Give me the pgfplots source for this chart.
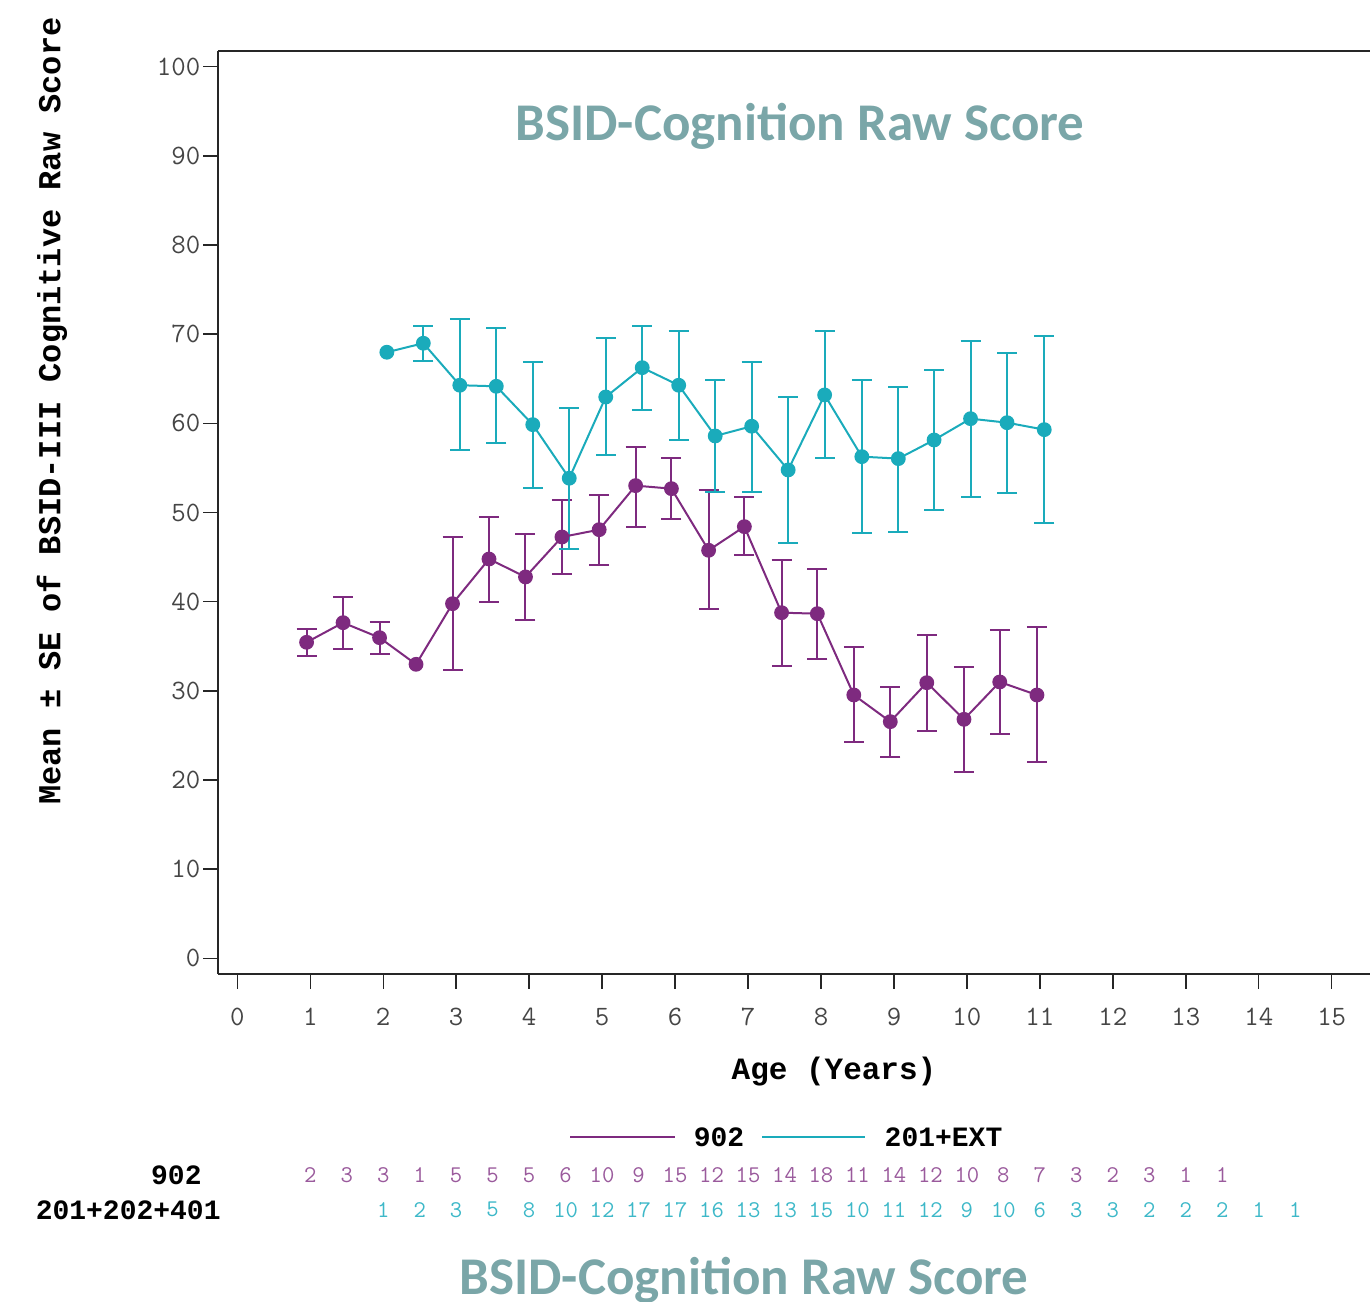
\documentclass[border=0pt]{standalone}
\usepackage{pgfplots}
\pgfplotsset{compat=1.18}
\usepackage{fontspec}
\setmainfont{Liberation Mono}
\newfontfamily\mono{Liberation Mono}
\newfontfamily\calib{Carlito}
\definecolor{cpurple}{HTML}{7E2A7F}
\definecolor{ccyan}{HTML}{1AABBB}
\definecolor{npurple}{HTML}{9A5A9C}
\definecolor{ncyan}{HTML}{3DB8C8}
\definecolor{ctitle}{HTML}{7AA6A8}
\definecolor{tickc}{HTML}{454545}

\pgfplotstableread{
x y ep em
0.95 35.44 1.46 1.54
1.45 37.64 2.86 2.94
1.95 35.96 1.72 1.79
2.45 32.97 0 0
2.95 39.77 7.48 7.47
3.45 44.78 4.72 4.85
3.95 42.77 4.85 4.86
4.45 47.25 4.12 4.11
4.96 48.07 3.89 3.99
5.46 53.01 4.37 4.64
5.95 52.67 3.41 3.36
6.46 45.76 6.73 6.55
6.95 48.41 3.33 3.21
7.46 38.76 5.91 5.94
7.95 38.65 5.05 5.08
8.45 29.53 5.35 5.30
8.95 26.54 3.85 4.00
9.45 30.91 5.31 5.38
9.96 26.80 5.84 5.94
10.45 30.99 5.80 5.83
10.96 29.53 7.63 7.55
}\purpletab

\pgfplotstableread{
x y ep em
0.95 35.44 1.46 1.54
1.45 37.64 2.86 2.94
1.95 35.96 1.72 1.79
2.95 39.77 7.48 7.47
3.45 44.78 4.72 4.85
3.95 42.77 4.85 4.86
4.45 47.25 4.12 4.11
4.96 48.07 3.89 3.99
5.46 53.01 4.37 4.64
5.95 52.67 3.41 3.36
6.46 45.76 6.73 6.55
6.95 48.41 3.33 3.21
7.46 38.76 5.91 5.94
7.95 38.65 5.05 5.08
8.45 29.53 5.35 5.30
8.95 26.54 3.85 4.00
9.45 30.91 5.31 5.38
9.96 26.80 5.84 5.94
10.45 30.99 5.80 5.83
10.96 29.53 7.63 7.55
}\purpleerr

\pgfplotstableread{
x y ep em
2.05 67.97 0 0
2.55 68.98 1.90 2.02
3.05 64.27 7.40 7.27
3.55 64.15 6.54 6.39
4.05 59.85 7.07 7.14
4.55 53.84 7.85 7.90
5.05 62.95 6.62 6.50
5.55 66.24 4.64 4.74
6.05 64.27 6.05 6.14
6.55 58.58 6.28 6.25
7.05 59.67 7.25 7.37
7.55 54.77 8.22 8.22
8.05 63.18 7.14 7.07
8.56 56.26 8.60 8.59
9.06 56.04 8.07 8.19
9.55 58.13 7.85 7.85
10.05 60.52 8.68 8.75
10.55 60.07 7.79 7.92
11.06 59.29 10.47 10.50
}\cyantab

\pgfplotstableread{
x y ep em
2.55 68.98 1.90 2.02
3.05 64.27 7.40 7.27
3.55 64.15 6.54 6.39
4.05 59.85 7.07 7.14
4.55 53.84 7.85 7.90
5.05 62.95 6.62 6.50
5.55 66.24 4.64 4.74
6.05 64.27 6.05 6.14
6.55 58.58 6.28 6.25
7.05 59.67 7.25 7.37
7.55 54.77 8.22 8.22
8.05 63.18 7.14 7.07
8.56 56.26 8.60 8.59
9.06 56.04 8.07 8.19
9.55 58.13 7.85 7.85
10.05 60.52 8.68 8.75
10.55 60.07 7.79 7.92
11.06 59.29 10.47 10.50
}\cyanerr

\pgfplotstableread{
x y n
1.0 -24.3 2
1.5 -24.3 3
2.0 -24.3 3
2.5 -24.3 1
3.0 -24.3 5
3.5 -24.3 5
4.0 -24.3 5
4.5 -24.3 6
5.0 -24.3 10
5.5 -24.3 9
6.0 -24.3 15
6.5 -24.3 12
7.0 -24.3 15
7.5 -24.3 14
8.0 -24.3 18
8.5 -24.3 11
9.0 -24.3 14
9.5 -24.3 12
10.0 -24.3 10
10.5 -24.3 8
11.0 -24.3 7
11.5 -24.3 3
12.0 -24.3 2
12.5 -24.3 3
13.0 -24.3 1
13.5 -24.3 1
}\npurple

\pgfplotstableread{
x y n
2.0 -28.2 1
2.5 -28.2 2
3.0 -28.2 3
3.5 -28.2 5
4.0 -28.2 8
4.5 -28.2 10
5.0 -28.2 12
5.5 -28.2 17
6.0 -28.2 17
6.5 -28.2 16
7.0 -28.2 13
7.5 -28.2 13
8.0 -28.2 15
8.5 -28.2 10
9.0 -28.2 11
9.5 -28.2 12
10.0 -28.2 9
10.5 -28.2 10
11.0 -28.2 6
11.5 -28.2 3
12.0 -28.2 3
12.5 -28.2 2
13.0 -28.2 2
13.5 -28.2 2
14.0 -28.2 1
14.5 -28.2 1
}\ncyan

\begin{document}
\begin{tikzpicture}
\useasboundingbox (0pt,0pt) rectangle (685pt,650.5pt);
\begin{axis}[
  at={(109.15pt,163.5pt)}, anchor=south west,
  scale only axis,
  width=576.85pt, height=461.65pt,
  xmin=-0.26, xmax=15.552,
  ymin=-1.761, ymax=101.79,
  separate axis lines,
  axis x line*=box, axis y line*=left,
  xtick pos=bottom, ytick pos=left,
  axis line style={line width=1pt, black!85},
  xtick={0,1,...,15}, ytick={0,10,...,100},
  tick align=outside,
  major tick length=7.5pt,
  every tick/.style={black!85, line width=0.7pt},
  tick label style={font=\fontsize{14}{16}\ttfamily, color=tickc},
  /pgf/number format/assume math mode=true,
  xticklabel style={yshift=-6pt},
  yticklabel style={xshift=2pt},
  clip=false,
]
\addplot[cpurple, only marks, mark=none, forget plot,
  error bars/.cd, y dir=both, y explicit,
  error bar style={line width=1pt, cpurple},
  error mark options={rotate=90, mark size=5pt, line width=1pt, cpurple}]
  table[x=x, y=y, y error plus=ep, y error minus=em] {\purpleerr};
\addplot[ccyan, only marks, mark=none, forget plot,
  error bars/.cd, y dir=both, y explicit,
  error bar style={line width=1pt, ccyan},
  error mark options={rotate=90, mark size=5pt, line width=1pt, ccyan}]
  table[x=x, y=y, y error plus=ep, y error minus=em] {\cyanerr};
\addplot[cpurple, line width=1pt, mark=*, mark size=3.2pt,
  mark options={fill=cpurple, draw=cpurple}]
  table[x=x, y=y] {\purpletab};
\addplot[ccyan, line width=1pt, mark=*, mark size=3.2pt,
  mark options={fill=ccyan, draw=ccyan}]
  table[x=x, y=y] {\cyantab};
\addplot[draw=none, mark=none, forget plot, nodes near coords,
  point meta=explicit symbolic,
  every node near coord/.style={anchor=center, font=\fontsize{12}{14}\ttfamily, color=npurple, inner sep=0pt}]
  table[x=x, y=y, meta=n] {\npurple};
\addplot[draw=none, mark=none, forget plot, nodes near coords,
  point meta=explicit symbolic,
  every node near coord/.style={anchor=center, font=\fontsize{12}{14}\ttfamily, color=ncyan, inner sep=0pt}]
  table[x=x, y=y, meta=n] {\ncyan};
\end{axis}
% axis labels
\node[rotate=90, font=\fontsize{16}{18}\mono\bfseries] at (26pt,445pt) {Mean ± SE of BSID-III Cognitive Raw Score};
\node[font=\fontsize{15.5}{17}\mono\bfseries] at (417pt,114.5pt) {Age (Years)};
% titles
\node[font=\fontsize{26.5}{30}\calib\bfseries, color=ctitle] at (400pt,587.5pt) {BSID-Cognition Raw Score};
\node[font=\fontsize{26.5}{30}\calib\bfseries, color=ctitle] at (372pt,10.5pt) {BSID-Cognition Raw Score};
% legend
\draw[cpurple, line width=1pt] (285pt,82pt) -- (337.5pt,82pt);
\node[font=\fontsize{14}{16}\mono\bfseries] at (359.5pt,82pt) {902};
\draw[ccyan, line width=1pt] (381pt,82pt) -- (432.5pt,82pt);
\node[font=\fontsize{14}{16}\mono\bfseries] at (471.75pt,82pt) {201+EXT};
% row labels
\node[anchor=east, font=\fontsize{14}{16}\mono\bfseries, inner sep=0pt] at (101pt,63pt) {902};
\node[anchor=east, font=\fontsize{14}{16}\mono\bfseries, inner sep=0pt] at (110.5pt,45.5pt) {201+202+401};
\end{tikzpicture}
\end{document}
